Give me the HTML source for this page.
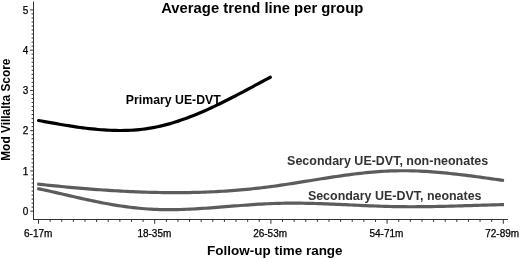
<!DOCTYPE html>
<html><head><meta charset="utf-8"><style>
html,body{margin:0;padding:0;background:#fff;width:520px;height:259px;overflow:hidden}
svg{display:block}
text{font-family:"Liberation Sans",Arial,sans-serif}
.tl{font-size:10px;fill:#000;stroke:#000;stroke-width:0.25px}
.cl{font-weight:bold}
.tt{font-weight:bold;fill:#000}
</style></head><body>
<svg width="520" height="259" viewBox="0 0 520 259">
<line x1="33.5" y1="1.5" x2="33.5" y2="220.0" stroke="#333" stroke-width="1"/>
<line x1="33" y1="219.5" x2="508" y2="219.5" stroke="#333" stroke-width="1"/>
<line x1="30.2" y1="211.20" x2="33.5" y2="211.20" stroke="#333" stroke-width="1"/>
<line x1="31.6" y1="207.17" x2="33.5" y2="207.17" stroke="#333" stroke-width="1"/>
<line x1="31.6" y1="203.15" x2="33.5" y2="203.15" stroke="#333" stroke-width="1"/>
<line x1="31.6" y1="199.12" x2="33.5" y2="199.12" stroke="#333" stroke-width="1"/>
<line x1="31.6" y1="195.10" x2="33.5" y2="195.10" stroke="#333" stroke-width="1"/>
<line x1="31.6" y1="191.07" x2="33.5" y2="191.07" stroke="#333" stroke-width="1"/>
<line x1="31.6" y1="187.04" x2="33.5" y2="187.04" stroke="#333" stroke-width="1"/>
<line x1="31.6" y1="183.02" x2="33.5" y2="183.02" stroke="#333" stroke-width="1"/>
<line x1="31.6" y1="178.99" x2="33.5" y2="178.99" stroke="#333" stroke-width="1"/>
<line x1="31.6" y1="174.97" x2="33.5" y2="174.97" stroke="#333" stroke-width="1"/>
<line x1="30.2" y1="170.94" x2="33.5" y2="170.94" stroke="#333" stroke-width="1"/>
<line x1="31.6" y1="166.91" x2="33.5" y2="166.91" stroke="#333" stroke-width="1"/>
<line x1="31.6" y1="162.89" x2="33.5" y2="162.89" stroke="#333" stroke-width="1"/>
<line x1="31.6" y1="158.86" x2="33.5" y2="158.86" stroke="#333" stroke-width="1"/>
<line x1="31.6" y1="154.84" x2="33.5" y2="154.84" stroke="#333" stroke-width="1"/>
<line x1="31.6" y1="150.81" x2="33.5" y2="150.81" stroke="#333" stroke-width="1"/>
<line x1="31.6" y1="146.78" x2="33.5" y2="146.78" stroke="#333" stroke-width="1"/>
<line x1="31.6" y1="142.76" x2="33.5" y2="142.76" stroke="#333" stroke-width="1"/>
<line x1="31.6" y1="138.73" x2="33.5" y2="138.73" stroke="#333" stroke-width="1"/>
<line x1="31.6" y1="134.71" x2="33.5" y2="134.71" stroke="#333" stroke-width="1"/>
<line x1="30.2" y1="130.68" x2="33.5" y2="130.68" stroke="#333" stroke-width="1"/>
<line x1="31.6" y1="126.65" x2="33.5" y2="126.65" stroke="#333" stroke-width="1"/>
<line x1="31.6" y1="122.63" x2="33.5" y2="122.63" stroke="#333" stroke-width="1"/>
<line x1="31.6" y1="118.60" x2="33.5" y2="118.60" stroke="#333" stroke-width="1"/>
<line x1="31.6" y1="114.58" x2="33.5" y2="114.58" stroke="#333" stroke-width="1"/>
<line x1="31.6" y1="110.55" x2="33.5" y2="110.55" stroke="#333" stroke-width="1"/>
<line x1="31.6" y1="106.52" x2="33.5" y2="106.52" stroke="#333" stroke-width="1"/>
<line x1="31.6" y1="102.50" x2="33.5" y2="102.50" stroke="#333" stroke-width="1"/>
<line x1="31.6" y1="98.47" x2="33.5" y2="98.47" stroke="#333" stroke-width="1"/>
<line x1="31.6" y1="94.45" x2="33.5" y2="94.45" stroke="#333" stroke-width="1"/>
<line x1="30.2" y1="90.42" x2="33.5" y2="90.42" stroke="#333" stroke-width="1"/>
<line x1="31.6" y1="86.39" x2="33.5" y2="86.39" stroke="#333" stroke-width="1"/>
<line x1="31.6" y1="82.37" x2="33.5" y2="82.37" stroke="#333" stroke-width="1"/>
<line x1="31.6" y1="78.34" x2="33.5" y2="78.34" stroke="#333" stroke-width="1"/>
<line x1="31.6" y1="74.32" x2="33.5" y2="74.32" stroke="#333" stroke-width="1"/>
<line x1="31.6" y1="70.29" x2="33.5" y2="70.29" stroke="#333" stroke-width="1"/>
<line x1="31.6" y1="66.26" x2="33.5" y2="66.26" stroke="#333" stroke-width="1"/>
<line x1="31.6" y1="62.24" x2="33.5" y2="62.24" stroke="#333" stroke-width="1"/>
<line x1="31.6" y1="58.21" x2="33.5" y2="58.21" stroke="#333" stroke-width="1"/>
<line x1="31.6" y1="54.19" x2="33.5" y2="54.19" stroke="#333" stroke-width="1"/>
<line x1="30.2" y1="50.16" x2="33.5" y2="50.16" stroke="#333" stroke-width="1"/>
<line x1="31.6" y1="46.13" x2="33.5" y2="46.13" stroke="#333" stroke-width="1"/>
<line x1="31.6" y1="42.11" x2="33.5" y2="42.11" stroke="#333" stroke-width="1"/>
<line x1="31.6" y1="38.08" x2="33.5" y2="38.08" stroke="#333" stroke-width="1"/>
<line x1="31.6" y1="34.06" x2="33.5" y2="34.06" stroke="#333" stroke-width="1"/>
<line x1="31.6" y1="30.03" x2="33.5" y2="30.03" stroke="#333" stroke-width="1"/>
<line x1="31.6" y1="26.00" x2="33.5" y2="26.00" stroke="#333" stroke-width="1"/>
<line x1="31.6" y1="21.98" x2="33.5" y2="21.98" stroke="#333" stroke-width="1"/>
<line x1="31.6" y1="17.95" x2="33.5" y2="17.95" stroke="#333" stroke-width="1"/>
<line x1="31.6" y1="13.93" x2="33.5" y2="13.93" stroke="#333" stroke-width="1"/>
<line x1="30.2" y1="9.90" x2="33.5" y2="9.90" stroke="#333" stroke-width="1"/>
<line x1="38.50" y1="219.5" x2="38.50" y2="223.8" stroke="#333" stroke-width="1"/>
<line x1="50.12" y1="219.5" x2="50.12" y2="221.9" stroke="#333" stroke-width="1"/>
<line x1="61.74" y1="219.5" x2="61.74" y2="221.9" stroke="#333" stroke-width="1"/>
<line x1="73.36" y1="219.5" x2="73.36" y2="221.9" stroke="#333" stroke-width="1"/>
<line x1="84.98" y1="219.5" x2="84.98" y2="221.9" stroke="#333" stroke-width="1"/>
<line x1="96.60" y1="219.5" x2="96.60" y2="221.9" stroke="#333" stroke-width="1"/>
<line x1="108.22" y1="219.5" x2="108.22" y2="221.9" stroke="#333" stroke-width="1"/>
<line x1="119.84" y1="219.5" x2="119.84" y2="221.9" stroke="#333" stroke-width="1"/>
<line x1="131.46" y1="219.5" x2="131.46" y2="221.9" stroke="#333" stroke-width="1"/>
<line x1="143.08" y1="219.5" x2="143.08" y2="221.9" stroke="#333" stroke-width="1"/>
<line x1="154.70" y1="219.5" x2="154.70" y2="223.8" stroke="#333" stroke-width="1"/>
<line x1="166.32" y1="219.5" x2="166.32" y2="221.9" stroke="#333" stroke-width="1"/>
<line x1="177.94" y1="219.5" x2="177.94" y2="221.9" stroke="#333" stroke-width="1"/>
<line x1="189.56" y1="219.5" x2="189.56" y2="221.9" stroke="#333" stroke-width="1"/>
<line x1="201.18" y1="219.5" x2="201.18" y2="221.9" stroke="#333" stroke-width="1"/>
<line x1="212.80" y1="219.5" x2="212.80" y2="221.9" stroke="#333" stroke-width="1"/>
<line x1="224.42" y1="219.5" x2="224.42" y2="221.9" stroke="#333" stroke-width="1"/>
<line x1="236.04" y1="219.5" x2="236.04" y2="221.9" stroke="#333" stroke-width="1"/>
<line x1="247.66" y1="219.5" x2="247.66" y2="221.9" stroke="#333" stroke-width="1"/>
<line x1="259.28" y1="219.5" x2="259.28" y2="221.9" stroke="#333" stroke-width="1"/>
<line x1="270.90" y1="219.5" x2="270.90" y2="223.8" stroke="#333" stroke-width="1"/>
<line x1="282.52" y1="219.5" x2="282.52" y2="221.9" stroke="#333" stroke-width="1"/>
<line x1="294.14" y1="219.5" x2="294.14" y2="221.9" stroke="#333" stroke-width="1"/>
<line x1="305.76" y1="219.5" x2="305.76" y2="221.9" stroke="#333" stroke-width="1"/>
<line x1="317.38" y1="219.5" x2="317.38" y2="221.9" stroke="#333" stroke-width="1"/>
<line x1="329.00" y1="219.5" x2="329.00" y2="221.9" stroke="#333" stroke-width="1"/>
<line x1="340.62" y1="219.5" x2="340.62" y2="221.9" stroke="#333" stroke-width="1"/>
<line x1="352.24" y1="219.5" x2="352.24" y2="221.9" stroke="#333" stroke-width="1"/>
<line x1="363.86" y1="219.5" x2="363.86" y2="221.9" stroke="#333" stroke-width="1"/>
<line x1="375.48" y1="219.5" x2="375.48" y2="221.9" stroke="#333" stroke-width="1"/>
<line x1="387.10" y1="219.5" x2="387.10" y2="223.8" stroke="#333" stroke-width="1"/>
<line x1="398.72" y1="219.5" x2="398.72" y2="221.9" stroke="#333" stroke-width="1"/>
<line x1="410.34" y1="219.5" x2="410.34" y2="221.9" stroke="#333" stroke-width="1"/>
<line x1="421.96" y1="219.5" x2="421.96" y2="221.9" stroke="#333" stroke-width="1"/>
<line x1="433.58" y1="219.5" x2="433.58" y2="221.9" stroke="#333" stroke-width="1"/>
<line x1="445.20" y1="219.5" x2="445.20" y2="221.9" stroke="#333" stroke-width="1"/>
<line x1="456.82" y1="219.5" x2="456.82" y2="221.9" stroke="#333" stroke-width="1"/>
<line x1="468.44" y1="219.5" x2="468.44" y2="221.9" stroke="#333" stroke-width="1"/>
<line x1="480.06" y1="219.5" x2="480.06" y2="221.9" stroke="#333" stroke-width="1"/>
<line x1="491.68" y1="219.5" x2="491.68" y2="221.9" stroke="#333" stroke-width="1"/>
<line x1="503.30" y1="219.5" x2="503.30" y2="223.8" stroke="#333" stroke-width="1"/>
<text x="28.2" y="214.80" text-anchor="end" class="tl">0</text>
<text x="28.2" y="174.54" text-anchor="end" class="tl">1</text>
<text x="28.2" y="134.28" text-anchor="end" class="tl">2</text>
<text x="28.2" y="94.02" text-anchor="end" class="tl">3</text>
<text x="28.2" y="53.76" text-anchor="end" class="tl">4</text>
<text x="28.2" y="13.50" text-anchor="end" class="tl">5</text>
<text x="38.20" y="236.9" text-anchor="middle" class="tl">6-17m</text>
<text x="154.35" y="236.9" text-anchor="middle" class="tl">18-35m</text>
<text x="270.10" y="236.9" text-anchor="middle" class="tl">26-53m</text>
<text x="386.40" y="236.9" text-anchor="middle" class="tl">54-71m</text>
<text x="502.20" y="236.9" text-anchor="middle" class="tl">72-89m</text>
<path d="M37.20,184.03 L40.19,184.35 L43.18,184.67 L46.18,184.98 L49.17,185.29 L52.16,185.59 L55.15,185.89 L58.15,186.19 L61.14,186.48 L64.13,186.77 L67.12,187.05 L70.12,187.32 L73.11,187.59 L76.10,187.86 L79.09,188.12 L82.08,188.37 L85.08,188.62 L88.07,188.86 L91.06,189.10 L94.05,189.33 L97.05,189.55 L100.04,189.77 L103.03,189.98 L106.02,190.18 L109.02,190.38 L112.01,190.57 L115.00,190.75 L117.99,190.93 L120.98,191.09 L123.98,191.25 L126.97,191.41 L129.96,191.55 L132.95,191.69 L135.95,191.81 L138.94,191.93 L141.93,192.04 L144.92,192.14 L147.92,192.24 L150.91,192.32 L153.90,192.39 L156.89,192.46 L159.88,192.52 L162.88,192.56 L165.87,192.60 L168.86,192.63 L171.85,192.64 L174.85,192.65 L177.84,192.65 L180.83,192.63 L183.82,192.61 L186.82,192.57 L189.81,192.53 L192.80,192.47 L195.79,192.40 L198.78,192.32 L201.78,192.23 L204.77,192.12 L207.76,192.01 L210.75,191.88 L213.75,191.74 L216.74,191.59 L219.73,191.43 L222.72,191.26 L225.72,191.07 L228.71,190.87 L231.70,190.65 L234.69,190.43 L237.68,190.18 L240.68,189.93 L243.67,189.66 L246.66,189.38 L249.65,189.09 L252.65,188.78 L255.64,188.46 L258.63,188.12 L261.62,187.77 L264.62,187.40 L267.61,187.02 L270.60,186.63 L273.59,186.22 L276.58,185.81 L279.58,185.38 L282.57,184.94 L285.56,184.49 L288.55,184.03 L291.55,183.57 L294.54,183.10 L297.53,182.63 L300.52,182.15 L303.52,181.67 L306.51,181.19 L309.50,180.71 L312.49,180.22 L315.48,179.74 L318.48,179.26 L321.47,178.79 L324.46,178.31 L327.45,177.85 L330.45,177.38 L333.44,176.93 L336.43,176.48 L339.42,176.05 L342.42,175.62 L345.41,175.21 L348.40,174.80 L351.39,174.41 L354.38,174.03 L357.38,173.67 L360.37,173.33 L363.36,173.00 L366.35,172.69 L369.35,172.40 L372.34,172.13 L375.33,171.88 L378.32,171.65 L381.32,171.44 L384.31,171.26 L387.30,171.10 L390.29,170.97 L393.28,170.87 L396.28,170.80 L399.27,170.75 L402.26,170.73 L405.25,170.74 L408.25,170.77 L411.24,170.83 L414.23,170.91 L417.22,171.01 L420.22,171.14 L423.21,171.29 L426.20,171.46 L429.19,171.65 L432.18,171.86 L435.18,172.09 L438.17,172.33 L441.16,172.60 L444.15,172.87 L447.15,173.17 L450.14,173.48 L453.13,173.80 L456.12,174.13 L459.12,174.48 L462.11,174.83 L465.10,175.20 L468.09,175.57 L471.08,175.96 L474.08,176.35 L477.07,176.75 L480.06,177.16 L483.05,177.57 L486.05,177.98 L489.04,178.40 L492.03,178.82 L495.02,179.24 L498.02,179.67 L501.01,180.09 L504.00,180.52" fill="none" stroke="#5c5c5c" stroke-width="3.2" stroke-linejoin="round"/>
<path d="M37.20,188.53 L40.19,189.14 L43.18,189.76 L46.18,190.40 L49.17,191.06 L52.16,191.72 L55.15,192.39 L58.15,193.07 L61.14,193.76 L64.13,194.45 L67.12,195.14 L70.12,195.84 L73.11,196.53 L76.10,197.22 L79.09,197.90 L82.08,198.57 L85.08,199.24 L88.07,199.89 L91.06,200.53 L94.05,201.16 L97.05,201.77 L100.04,202.37 L103.03,202.95 L106.02,203.51 L109.02,204.05 L112.01,204.57 L115.00,205.08 L117.99,205.56 L120.98,206.02 L123.98,206.45 L126.97,206.86 L129.96,207.25 L132.95,207.61 L135.95,207.94 L138.94,208.25 L141.93,208.52 L144.92,208.77 L147.92,208.99 L150.91,209.17 L153.90,209.32 L156.89,209.45 L159.88,209.54 L162.88,209.61 L165.87,209.65 L168.86,209.66 L171.85,209.65 L174.85,209.62 L177.84,209.56 L180.83,209.48 L183.82,209.39 L186.82,209.27 L189.81,209.14 L192.80,209.00 L195.79,208.84 L198.78,208.66 L201.78,208.47 L204.77,208.27 L207.76,208.07 L210.75,207.85 L213.75,207.63 L216.74,207.40 L219.73,207.16 L222.72,206.92 L225.72,206.68 L228.71,206.44 L231.70,206.20 L234.69,205.96 L237.68,205.72 L240.68,205.48 L243.67,205.25 L246.66,205.03 L249.65,204.81 L252.65,204.60 L255.64,204.40 L258.63,204.22 L261.62,204.04 L264.62,203.88 L267.61,203.73 L270.60,203.60 L273.59,203.48 L276.58,203.39 L279.58,203.31 L282.57,203.25 L285.56,203.20 L288.55,203.17 L291.55,203.16 L294.54,203.16 L297.53,203.18 L300.52,203.21 L303.52,203.25 L306.51,203.30 L309.50,203.36 L312.49,203.44 L315.48,203.52 L318.48,203.61 L321.47,203.71 L324.46,203.82 L327.45,203.93 L330.45,204.05 L333.44,204.18 L336.43,204.31 L339.42,204.44 L342.42,204.57 L345.41,204.71 L348.40,204.85 L351.39,204.99 L354.38,205.12 L357.38,205.26 L360.37,205.40 L363.36,205.53 L366.35,205.66 L369.35,205.78 L372.34,205.90 L375.33,206.02 L378.32,206.13 L381.32,206.23 L384.31,206.32 L387.30,206.41 L390.29,206.49 L393.28,206.55 L396.28,206.61 L399.27,206.66 L402.26,206.69 L405.25,206.71 L408.25,206.73 L411.24,206.74 L414.23,206.73 L417.22,206.72 L420.22,206.70 L423.21,206.67 L426.20,206.64 L429.19,206.60 L432.18,206.55 L435.18,206.50 L438.17,206.44 L441.16,206.37 L444.15,206.30 L447.15,206.23 L450.14,206.15 L453.13,206.07 L456.12,205.99 L459.12,205.90 L462.11,205.81 L465.10,205.72 L468.09,205.63 L471.08,205.54 L474.08,205.45 L477.07,205.35 L480.06,205.26 L483.05,205.17 L486.05,205.08 L489.04,204.99 L492.03,204.90 L495.02,204.82 L498.02,204.74 L501.01,204.66 L504.00,204.58" fill="none" stroke="#5c5c5c" stroke-width="3.2" stroke-linejoin="round"/>
<path d="M38.60,120.50 L41.57,121.04 L44.54,121.58 L47.51,122.11 L50.48,122.65 L53.45,123.17 L56.42,123.70 L59.39,124.21 L62.36,124.71 L65.33,125.21 L68.31,125.69 L71.28,126.16 L74.25,126.61 L77.22,127.05 L80.19,127.46 L83.16,127.86 L86.13,128.23 L89.10,128.59 L92.07,128.91 L95.04,129.21 L98.01,129.49 L100.98,129.73 L103.95,129.95 L106.92,130.13 L109.89,130.27 L112.86,130.39 L115.83,130.46 L118.80,130.50 L121.77,130.50 L124.74,130.45 L127.72,130.37 L130.69,130.23 L133.66,130.06 L136.63,129.83 L139.60,129.56 L142.57,129.23 L145.54,128.85 L148.51,128.42 L151.48,127.94 L154.45,127.40 L157.42,126.80 L160.39,126.14 L163.36,125.43 L166.33,124.67 L169.30,123.85 L172.27,122.99 L175.24,122.08 L178.21,121.12 L181.18,120.11 L184.16,119.07 L187.13,117.98 L190.10,116.85 L193.07,115.69 L196.04,114.48 L199.01,113.24 L201.98,111.97 L204.95,110.67 L207.92,109.34 L210.89,107.97 L213.86,106.58 L216.83,105.17 L219.80,103.73 L222.77,102.27 L225.74,100.79 L228.71,99.29 L231.68,97.77 L234.65,96.24 L237.62,94.70 L240.59,93.14 L243.57,91.57 L246.54,89.99 L249.51,88.40 L252.48,86.81 L255.45,85.21 L258.42,83.61 L261.39,82.01 L264.36,80.41 L267.33,78.82 L270.30,77.22" fill="none" stroke="#000" stroke-width="3.2" stroke-linejoin="round" stroke-linecap="round"/>
<text x="125.8" y="103.6" class="cl" style="font-size:11.9px" textLength="95.00" lengthAdjust="spacingAndGlyphs" fill="#000">Primary UE-DVT</text>
<text x="287.1" y="165.0" class="cl" style="font-size:12.1px" textLength="201.10" lengthAdjust="spacingAndGlyphs" fill="#333">Secondary UE-DVT, non-neonates</text>
<text x="307.9" y="199.6" class="cl" style="font-size:12.1px" textLength="173.65" lengthAdjust="spacingAndGlyphs" fill="#333">Secondary UE-DVT, neonates</text>
<text x="161.2" y="13.4" class="tt" style="font-size:14.4px" textLength="202.10" lengthAdjust="spacingAndGlyphs">Average trend line per group</text>
<text x="207.1" y="255.3" class="tt" style="font-size:13.1px" textLength="135.50" lengthAdjust="spacingAndGlyphs">Follow-up time range</text>
<text transform="translate(10.1,160.8) rotate(-90)" x="0" y="0" class="tt" style="font-size:12.4px" textLength="102.30" lengthAdjust="spacingAndGlyphs">Mod Villalta Score</text>
</svg>
</body></html>
